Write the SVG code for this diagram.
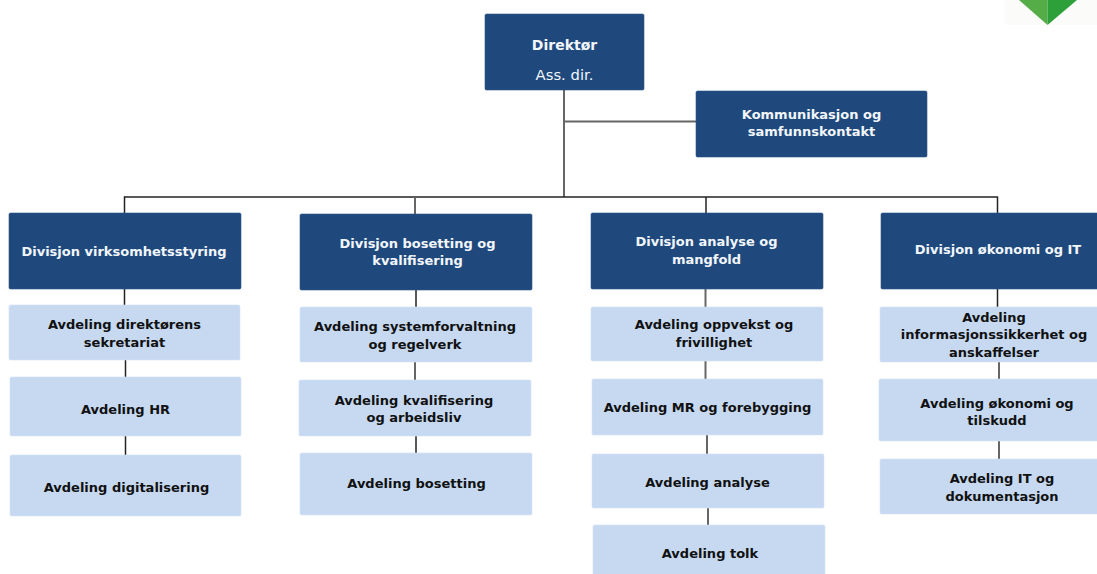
<svg xmlns="http://www.w3.org/2000/svg" width="1097" height="574" viewBox="0 0 1097 574">
<style>
text{font-family:"DejaVu Sans","Liberation Sans",sans-serif;font-size:13px;font-weight:700;text-anchor:middle}
.d rect{fill:#1f497d;stroke:#2d5589;stroke-width:.6}
.d text{fill:#f2f6fb}
.a rect{fill:#c6d9f1;stroke:#d5e3f5;stroke-width:.6}
.a text{fill:#111}
#connectors line{stroke:#666;stroke-width:2}
#connectors .k{stroke:#222;stroke-width:1.5}
</style>
<rect width="1097" height="574" fill="#fff"/>
<g id="logo"><rect x="1005" y="0" width="92" height="25" fill="#fbfcfa"/><polygon points="1019,0 1047.500,25 1047.500,0" fill="#55ad48"/><polygon points="1047.500,25 1077,0 1047.500,0" fill="#2ea03a"/></g>
<g id="connectors">
<line x1="564" y1="90" x2="564" y2="197"/><line x1="564" y1="121.500" x2="696" y2="121.500"/>
<line class="k" x1="124" y1="197" x2="997.500" y2="197"/>
<line class="k" x1="124.500" y1="196.500" x2="124.500" y2="213"/><line x1="415" y1="197" x2="415" y2="214"/><line class="k" x1="706" y1="197" x2="706" y2="213"/><line class="k" x1="997.500" y1="196.500" x2="997.500" y2="213"/>
<line class="k" x1="124.500" y1="289" x2="124.500" y2="305"/><line class="k" x1="125.500" y1="360" x2="125.500" y2="377"/><line class="k" x1="125.500" y1="436" x2="125.500" y2="455"/>
<line class="k" x1="416" y1="290" x2="416" y2="307"/><line x1="415" y1="362" x2="415" y2="380"/><line class="k" x1="416" y1="436" x2="416" y2="453"/>
<line x1="705.500" y1="289" x2="705.500" y2="307"/><line x1="705.500" y1="361" x2="705.500" y2="379"/><line x1="707" y1="435" x2="707" y2="454"/><line x1="708" y1="508" x2="708" y2="525"/>
<line class="k" x1="997.500" y1="289" x2="997.500" y2="307"/><line x1="999" y1="362" x2="999" y2="379"/><line x1="999" y1="441" x2="999" y2="459"/>
</g>
<g id="direktor" class="d"><rect x="485" y="14" width="159" height="76" rx="1.500"/><text x="564.500" y="50" style="font-size:14px">Direktør</text><text x="564.500" y="80" style="font-weight:400;font-size:14.800px">Ass. dir.</text></g>
<g id="kommunikasjon" class="d"><rect x="696" y="91" width="231" height="66" rx="1.500"/><text x="811.500" y="119">Kommunikasjon og</text><text x="811.500" y="136">samfunnskontakt</text></g>
<g id="div1" class="d"><rect x="9" y="213" width="232" height="76" rx="1.500"/><text x="124" y="255.500">Divisjon virksomhetsstyring</text></g>
<g id="div2" class="d"><rect x="300" y="214" width="232" height="76" rx="1.500"/><text x="417.500" y="247.500">Divisjon bosetting og</text><text x="417.500" y="265">kvalifisering</text></g>
<g id="div3" class="d"><rect x="591" y="213" width="232" height="76" rx="1.500"/><text x="706.500" y="246">Divisjon analyse og</text><text x="706.500" y="264">mangfold</text></g>
<g id="div4" class="d"><rect x="881" y="213" width="218" height="76" rx="1.500"/><text x="998" y="254">Divisjon økonomi og IT</text></g>
<g id="a11" class="a"><rect x="9" y="305" width="231" height="55" rx="1.500"/><text x="124.500" y="329">Avdeling direktørens</text><text x="124.500" y="347">sekretariat</text></g>
<g id="a12" class="a"><rect x="10" y="377" width="231" height="59" rx="1.500"/><text x="125.500" y="414">Avdeling HR</text></g>
<g id="a13" class="a"><rect x="10" y="455" width="231" height="61" rx="1.500"/><text x="126.500" y="492">Avdeling digitalisering</text></g>
<g id="a21" class="a"><rect x="300" y="307" width="232" height="55" rx="1.500"/><text x="415" y="331">Avdeling systemforvaltning</text><text x="415" y="349">og regelverk</text></g>
<g id="a22" class="a"><rect x="299" y="380" width="232" height="56" rx="1.500"/><text x="414" y="405">Avdeling kvalifisering</text><text x="414" y="422">og arbeidsliv</text></g>
<g id="a23" class="a"><rect x="300" y="453" width="232" height="62" rx="1.500"/><text x="416.500" y="488">Avdeling bosetting</text></g>
<g id="a31" class="a"><rect x="591" y="307" width="232" height="54" rx="1.500"/><text x="714" y="329">Avdeling oppvekst og</text><text x="714" y="347">frivillighet</text></g>
<g id="a32" class="a"><rect x="592" y="379" width="231" height="56" rx="1.500"/><text x="707.500" y="412">Avdeling MR og forebygging</text></g>
<g id="a33" class="a"><rect x="592" y="454" width="232" height="54" rx="1.500"/><text x="707.500" y="487">Avdeling analyse</text></g>
<g id="a34" class="a"><rect x="593" y="525" width="232" height="52" rx="1.500"/><text x="710" y="558">Avdeling tolk</text></g>
<g id="a41" class="a"><rect x="880" y="307" width="220" height="55" rx="1.500"/><text x="994" y="322">Avdeling</text><text x="994" y="339">informasjonssikkerhet og</text><text x="994" y="357">anskaffelser</text></g>
<g id="a42" class="a"><rect x="879" y="379" width="221" height="62" rx="1.500"/><text x="997" y="408">Avdeling økonomi og</text><text x="997" y="425">tilskudd</text></g>
<g id="a43" class="a"><rect x="880" y="459" width="220" height="55" rx="1.500"/><text x="1002" y="483">Avdeling IT og</text><text x="1002" y="501">dokumentasjon</text></g>
</svg>
